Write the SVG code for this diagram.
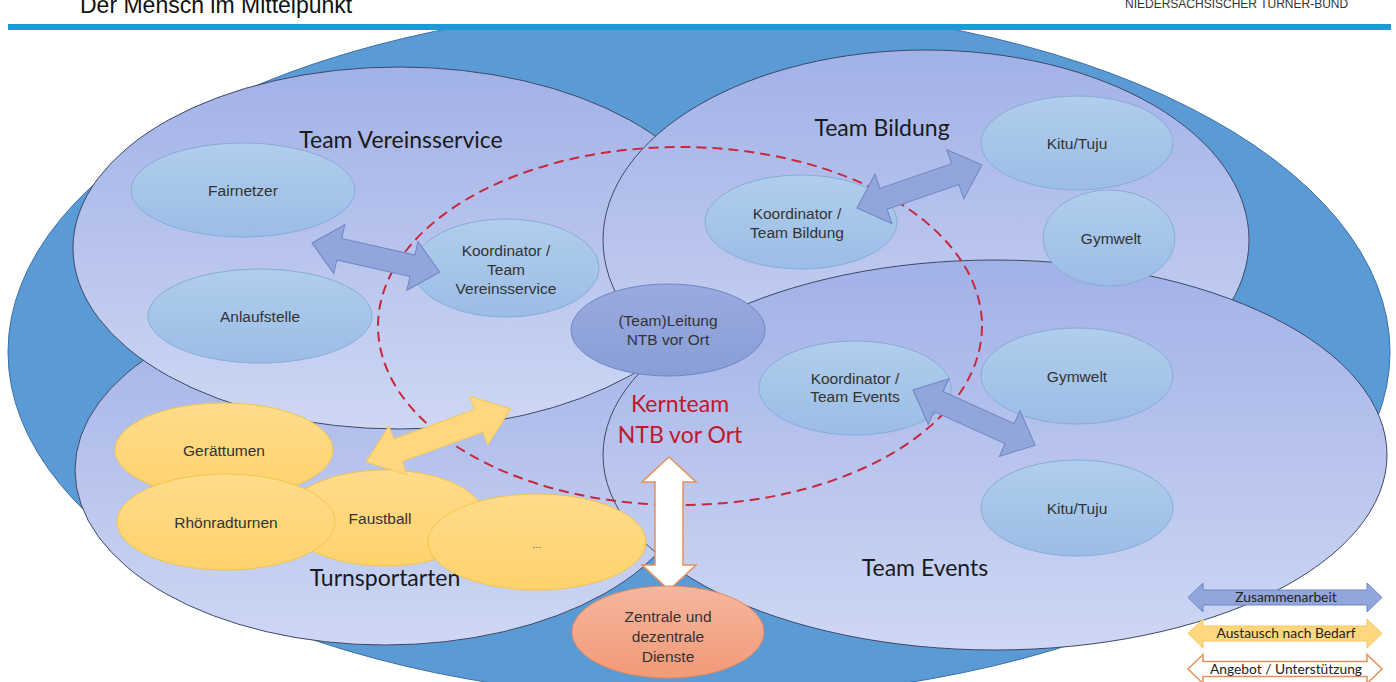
<svg xmlns="http://www.w3.org/2000/svg" width="1396" height="682" viewBox="0 0 1396 682">
<style>
.team{stroke:#3d4868;stroke-width:1;fill:url(#teamGrad)}
.node{fill:url(#nodeGrad);stroke:#88abd6;stroke-width:1}
.orange{fill:url(#orangeGrad);stroke:#f2c44e;stroke-width:1}
.nt{font-family:"Liberation Sans",Arial,sans-serif;font-size:15.5px;fill:#333;text-anchor:middle}
.title{font-family:Lato,"Open Sans",sans-serif;font-size:23px;fill:#1a1a1a;text-anchor:middle}
.kern{font-family:Lato,"Open Sans",sans-serif;font-size:23px;fill:#c0182a;text-anchor:middle}
.leg{font-family:Lato,"Open Sans",sans-serif;font-size:13.8px;fill:#222;text-anchor:middle}
.blueArrow{fill:#93a6dc;stroke:#6c85c5;stroke-width:1}
.orangeArrow{fill:#ffd77e;stroke:#f5c85a;stroke-width:1}
.whiteArrow{fill:#ffffff;stroke:#e8905a;stroke-width:1.5}
</style>
<defs>
<linearGradient id="teamGrad" x1="0" y1="0" x2="0" y2="1">
<stop offset="0" stop-color="#a2b1e7"/>
<stop offset="1" stop-color="#ced7f4"/>
</linearGradient>
<linearGradient id="nodeGrad" x1="0" y1="0" x2="0" y2="1">
<stop offset="0" stop-color="#b0ceec"/>
<stop offset="1" stop-color="#9bbde6"/>
</linearGradient>
<linearGradient id="leadGrad" x1="0" y1="0" x2="0" y2="1">
<stop offset="0" stop-color="#9aaadf"/>
<stop offset="1" stop-color="#889ed7"/>
</linearGradient>
<linearGradient id="orangeGrad" x1="0" y1="0" x2="0" y2="1">
<stop offset="0" stop-color="#ffdc8c"/>
<stop offset="1" stop-color="#ffd26c"/>
</linearGradient>
<linearGradient id="salmonGrad" x1="0" y1="0" x2="0" y2="1">
<stop offset="0" stop-color="#f7b69e"/>
<stop offset="1" stop-color="#f19a78"/>
</linearGradient>
</defs>

<rect x="0" y="0" width="1396" height="682" fill="#ffffff"/>

<g id="background">
<ellipse cx="699" cy="352" rx="691" ry="347" fill="#5b9bd5" stroke="#3a6ea5" stroke-width="1"/>
</g>

<g id="header">
<rect x="0" y="0" width="1396" height="24" fill="#ffffff"/>
<rect x="8" y="24" width="1383" height="6" fill="#1e98d6"/>
<text x="80" y="13" font-family="Liberation Sans,Arial,sans-serif" font-size="23px" fill="#111">Der Mensch im Mittelpunkt</text>
<text x="1125" y="8" font-family="Liberation Sans,Arial,sans-serif" font-size="12px" fill="#333">NIEDERSACHSISCHER TURNER-BUND</text>
</g>

<g id="team-turnsportarten">
<ellipse class="team" cx="385" cy="470" rx="310" ry="175"/>
</g>
<g id="team-vereinsservice">
<ellipse class="team" cx="399" cy="248" rx="326" ry="181"/>
</g>
<g id="team-bildung">
<ellipse class="team" cx="926" cy="240" rx="323" ry="190"/>
</g>
<g id="team-events">
<ellipse class="team" cx="995" cy="455" rx="392" ry="195"/>
</g>

<g id="kernteam">
<ellipse cx="680" cy="326" rx="302" ry="179" fill="none" stroke="#c8283c" stroke-width="2" stroke-dasharray="10 6"/>
</g>

<g id="labels-teams">
<text class="title" x="401" y="148">Team Vereinsservice</text>
<text class="title" x="882" y="136">Team Bildung</text>
<text class="title" x="925" y="576">Team Events</text>
<text class="title" x="385" y="586">Turnsportarten</text>
<text class="kern" x="680" y="412">Kernteam</text>
<text class="kern" x="680" y="443">NTB vor Ort</text>
</g>

<g id="node-fairnetzer">
<ellipse class="node" cx="243" cy="190" rx="112" ry="47"/>
<text class="nt" x="243" y="196">Fairnetzer</text>
</g>
<g id="node-anlaufstelle">
<ellipse class="node" cx="260" cy="316" rx="112" ry="47"/>
<text class="nt" x="260" y="322">Anlaufstelle</text>
</g>
<g id="node-koord-vereinsservice">
<ellipse class="node" cx="506" cy="268" rx="93" ry="49"/>
<text class="nt" x="506" y="256">Koordinator /</text>
<text class="nt" x="506" y="275">Team</text>
<text class="nt" x="506" y="294">Vereinsservice</text>
</g>
<g id="node-koord-bildung">
<ellipse class="node" cx="801" cy="222" rx="96" ry="47"/>
<text class="nt" x="797" y="219">Koordinator /</text>
<text class="nt" x="797" y="238">Team Bildung</text>
</g>
<g id="node-kitu-bildung">
<ellipse class="node" cx="1077" cy="143" rx="96" ry="47"/>
<text class="nt" x="1077" y="149">Kitu/Tuju</text>
</g>
<g id="node-gymwelt-bildung">
<ellipse class="node" cx="1109" cy="238" rx="66" ry="48"/>
<text class="nt" x="1111" y="244">Gymwelt</text>
</g>
<g id="node-koord-events">
<ellipse class="node" cx="855" cy="388" rx="96" ry="47"/>
<text class="nt" x="855" y="384">Koordinator /</text>
<text class="nt" x="855" y="402">Team Events</text>
</g>
<g id="node-gymwelt-events">
<ellipse class="node" cx="1077" cy="376" rx="96" ry="48"/>
<text class="nt" x="1077" y="382">Gymwelt</text>
</g>
<g id="node-kitu-events">
<ellipse class="node" cx="1077" cy="508" rx="96" ry="48"/>
<text class="nt" x="1077" y="514">Kitu/Tuju</text>
</g>
<g id="node-leitung">
<ellipse cx="668" cy="330" rx="97" ry="46" fill="url(#leadGrad)" stroke="#6e86c6" stroke-width="1"/>
<text class="nt" x="668" y="326">(Team)Leitung</text>
<text class="nt" x="668" y="345">NTB vor Ort</text>
</g>

<g id="node-geraetturnen">
<ellipse class="orange" cx="224" cy="450" rx="109" ry="47"/>
<text class="nt" x="224" y="456">Gerättumen</text>
</g>
<g id="node-faustball">
<ellipse class="orange" cx="385" cy="518" rx="100" ry="48"/>
<text class="nt" x="380" y="524">Faustball</text>
</g>
<g id="node-rhoenradturnen">
<ellipse class="orange" cx="226" cy="522" rx="109" ry="48"/>
<text class="nt" x="226" y="528">Rhönradturnen</text>
</g>
<g id="node-more">
<ellipse class="orange" cx="537" cy="542" rx="109" ry="48"/>
<text class="nt" x="537" y="548" style="font-size:11px;fill:#666">...</text>
</g>

<g id="connectors">
<polygon class="blueArrow" transform="translate(312,243) rotate(12.8)" points="0,0 28,-25 28,-11 103,-11 103,-25 131,0 103,25 103,11 28,11 28,25"/>
<polygon class="blueArrow" transform="translate(857,208) rotate(-19)" points="0,0 28,-26 28,-11 104,-11 104,-26 132,0 104,26 104,11 28,11 28,26"/>
<polygon class="blueArrow" transform="translate(913,390) rotate(24.3)" points="0,0 28,-25 28,-11 106,-11 106,-25 134,0 106,25 106,11 28,11 28,25"/>
<polygon class="orangeArrow" transform="translate(366,462) rotate(-20.1)" points="0,0 34,-26 34,-12 120,-12 120,-26 154,0 120,26 120,12 34,12 34,26"/>
<polygon class="whiteArrow" transform="translate(669,457) rotate(90)" points="0,0 25,-27 25,-14 108,-14 108,-27 133,0 108,27 108,14 25,14 25,27"/>
</g>

<g id="node-zentrale">
<ellipse cx="668" cy="632" rx="96" ry="46" fill="url(#salmonGrad)" stroke="#e98a5a" stroke-width="1"/>
<text class="nt" x="668" y="622">Zentrale und</text>
<text class="nt" x="668" y="642">dezentrale</text>
<text class="nt" x="668" y="662">Dienste</text>
</g>

<g id="legend">
<polygon class="blueArrow" transform="translate(1188,597.5)" points="0,0 15,-14.5 15,-7.5 179,-7.5 179,-14.5 194,0 179,14.5 179,7.5 15,7.5 15,14.5"/>
<text class="leg" x="1286" y="602">Zusammenarbeit</text>
<polygon class="orangeArrow" transform="translate(1188,633.5)" points="0,0 15,-14.5 15,-7.5 179,-7.5 179,-14.5 194,0 179,14.5 179,7.5 15,7.5 15,14.5"/>
<text class="leg" x="1286" y="638">Austausch nach Bedarf</text>
<polygon class="whiteArrow" transform="translate(1188,669)" points="0,0 15,-14.5 15,-7.5 179,-7.5 179,-14.5 194,0 179,14.5 179,7.5 15,7.5 15,14.5"/>
<text class="leg" x="1286" y="674">Angebot / Unterstützung</text>
</g>
</svg>
